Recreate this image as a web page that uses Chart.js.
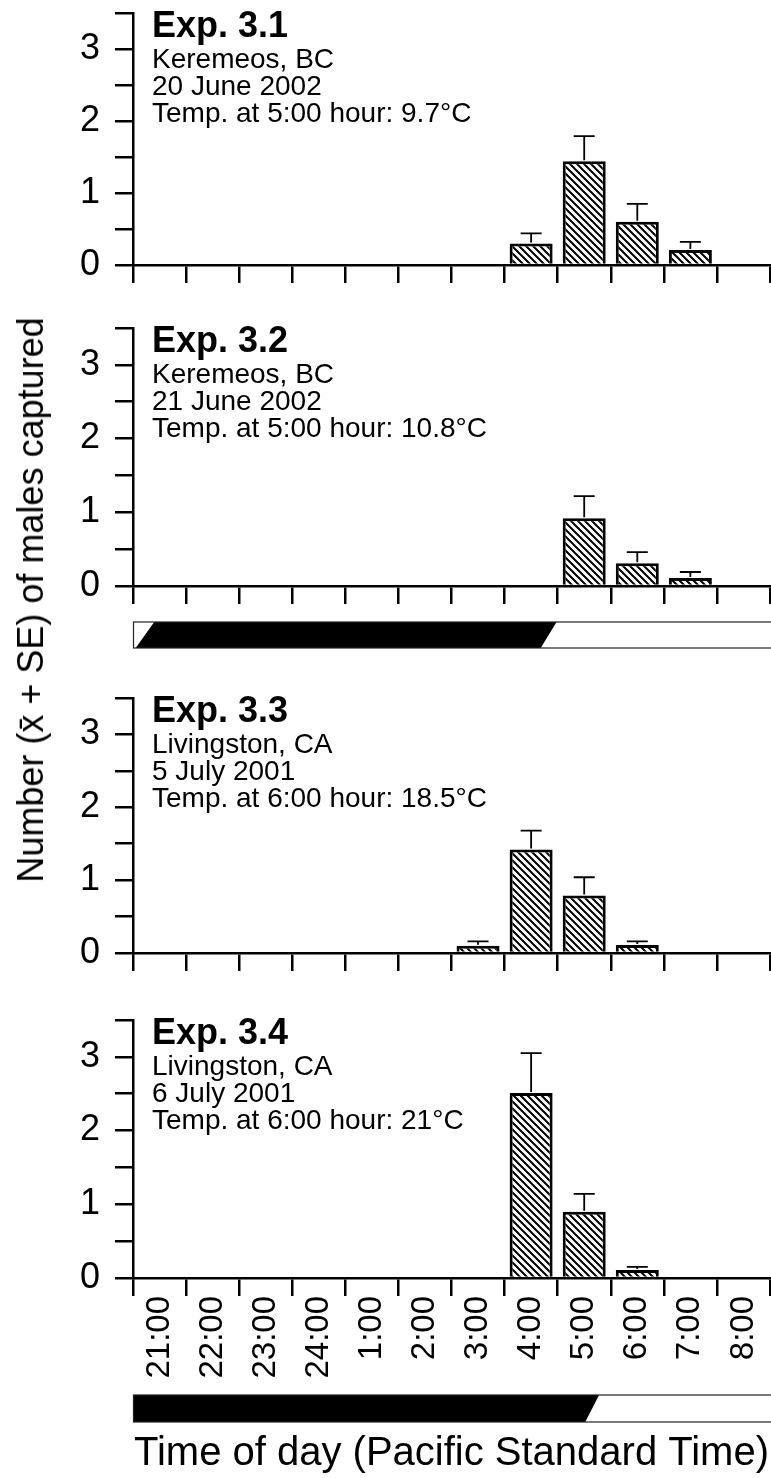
<!DOCTYPE html>
<html>
<head>
<meta charset="utf-8">
<script src="https://cdn.jsdelivr.net/npm/chart.js@4.4.1/dist/chart.umd.min.js"></script>
<style>
  html, body { margin: 0; padding: 0; background: #fff; }
  #wrap { position: relative; width: 771px; height: 1478px; overflow: hidden; background: #fff; }
  #wrap canvas { position: absolute; left: 0; }
  #ytitle {
    position: absolute; left: 31px; top: 600px;
    transform: translate(-50%, -50%) rotate(-90deg);
    white-space: nowrap; color: #000;
    font: 36px "Liberation Sans", Arial, Helvetica, sans-serif;
  }
</style>
</head>
<body>
<div id="wrap">
  <canvas id="c1" width="771" height="285" style="top:0px"></canvas>
  <canvas id="c2" width="771" height="355" style="top:300px"></canvas>
  <canvas id="c3" width="771" height="303" style="top:670px"></canvas>
  <canvas id="c4" width="771" height="483" style="top:995px"></canvas>
  <div id="ytitle">Number (x̄ + SE) of males captured</div>
</div>
<script>
// ---------------- DATA ----------------
const hours = ['21:00','22:00','23:00','24:00','1:00','2:00','3:00','4:00','5:00','6:00','7:00','8:00'];
const yLabelValues = [0, 1, 2, 3];

const exp31Mean = [null,null,null,null,null,null,null,0.30,1.44,0.60,0.21,null];
const exp31SE   = [null,null,null,null,null,null,null,0.14,0.35,0.25,0.11,null];
const exp32Mean = [null,null,null,null,null,null,null,null,0.92,0.31,0.11,null];
const exp32SE   = [null,null,null,null,null,null,null,null,0.30,0.15,0.08,null];
const exp33Mean = [null,null,null,null,null,null,0.10,1.42,0.79,0.11,null,null];
const exp33SE   = [null,null,null,null,null,null,0.06,0.26,0.25,0.05,null,null];
const exp34Mean = [null,null,null,null,null,null,null,2.51,0.90,0.11,null,null];
const exp34SE   = [null,null,null,null,null,null,null,0.54,0.24,0.04,null,null];

const exp31Text = ['Exp. 3.1', 'Keremeos, BC', '20 June 2002', 'Temp. at 5:00 hour: 9.7\u00B0C'];
const exp32Text = ['Exp. 3.2', 'Keremeos, BC', '21 June 2002', 'Temp. at 5:00 hour: 10.8\u00B0C'];
const exp33Text = ['Exp. 3.3', 'Livingston, CA', '5 July 2001', 'Temp. at 6:00 hour: 18.5\u00B0C'];
const exp34Text = ['Exp. 3.4', 'Livingston, CA', '6 July 2001', 'Temp. at 6:00 hour: 21\u00B0C'];

// light/dark bars: hours elapsed since 21:00 (top edge / bottom edge of twilight ramps)
const darkBC = { duskTop: 0.40, duskBottom: 0.05, dawnTop: 7.98, dawnBottom: 7.68 };
const darkCA = { duskTop: 0.00, duskBottom: 0.00, dawnTop: 8.78, dawnBottom: 8.52 };

const xTitle = 'Time of day (Pacific Standard Time)';

// ---------------- RENDERING ----------------
const FONT = '"Liberation Sans", Arial, Helvetica, sans-serif';
Chart.defaults.font.family = FONT;
Chart.defaults.color = '#000';

function makeHatch() {
  const s = 7;
  const c = document.createElement('canvas');
  c.width = s; c.height = s;
  const g = c.getContext('2d');
  g.fillStyle = '#fff'; g.fillRect(0, 0, s, s);
  g.strokeStyle = '#000'; g.lineWidth = 2.0;
  g.beginPath();
  g.moveTo(-1, -1); g.lineTo(s + 1, s + 1);
  g.moveTo(-1, s - 1); g.lineTo(1, s + 1);
  g.moveTo(s - 1, -1); g.lineTo(s + 1, 1);
  g.stroke();
  return g.createPattern(c, 'repeat');
}
const hatch = makeHatch();

function errorBarPlugin(se) {
  return {
    id: 'errorBars',
    afterDatasetsDraw(chart) {
      const meta = chart.getDatasetMeta(0);
      const y = chart.scales.y;
      const mean = chart.data.datasets[0].data;
      const ctx = chart.ctx;
      ctx.save();
      ctx.strokeStyle = '#000';
      ctx.lineWidth = 1.8;
      meta.data.forEach((bar, i) => {
        if (mean[i] == null || se[i] == null) return;
        const x = bar.x;
        const y0 = y.getPixelForValue(mean[i]);
        const y1 = y.getPixelForValue(mean[i] + se[i]);
        ctx.beginPath();
        ctx.moveTo(x, y0 - 1); ctx.lineTo(x, y1);
        ctx.moveTo(x - 10.5, y1); ctx.lineTo(x + 10.5, y1);
        ctx.stroke();
      });
      ctx.restore();
    }
  };
}

function panelTextPlugin(lines) {
  return {
    id: 'panelText',
    afterDraw(chart) {
      const a = chart.chartArea;
      const ctx = chart.ctx;
      ctx.save();
      ctx.fillStyle = '#000';
      ctx.textAlign = 'left';
      ctx.textBaseline = 'alphabetic';
      ctx.font = 'bold 36px ' + FONT;
      ctx.fillText(lines[0], a.left + 19, a.top + 24);
      ctx.font = '28px ' + FONT;
      for (let k = 1; k < lines.length; k++) {
        ctx.fillText(lines[k], a.left + 19, a.top + 55 + (k - 1) * 27);
      }
      ctx.restore();
    }
  };
}

function lightBarPlugin(bar, yOff, h) {
  return {
    id: 'lightBar',
    afterDraw(chart) {
      const x = chart.scales.x;
      const a = chart.chartArea;
      const ctx = chart.ctx;
      const y0 = a.bottom + yOff, y1 = y0 + h;
      const px = hh => x.getPixelForValue(hh - 0.5);
      ctx.save();
      ctx.fillStyle = '#000';
      ctx.beginPath();
      ctx.moveTo(px(bar.duskTop), y0);
      ctx.lineTo(px(bar.dawnTop), y0);
      ctx.lineTo(px(bar.dawnBottom), y1);
      ctx.lineTo(px(bar.duskBottom), y1);
      ctx.closePath();
      ctx.fill();
      ctx.strokeStyle = '#222';
      ctx.lineWidth = 1.2;
      ctx.strokeRect(a.left + 0.5, y0, a.right + 10 - a.left, h);
      ctx.restore();
    }
  };
}

function makePanel(id, mean, se, text, cfg) {
  const plugins = [errorBarPlugin(se), panelTextPlugin(text)];
  if (cfg.lightBar) plugins.push(lightBarPlugin(cfg.lightBar, cfg.barOff, cfg.barH));
  return new Chart(document.getElementById(id), {
    type: 'bar',
    data: {
      labels: hours,
      datasets: [{
        data: mean,
        backgroundColor: hatch,
        borderColor: '#000',
        borderWidth: 3,
        borderSkipped: 'bottom',
        barPercentage: 0.81,
        categoryPercentage: 1.0
      }]
    },
    options: {
      responsive: false,
      animation: false,
      events: [],
      layout: { padding: { top: cfg.padTop, right: 1, left: 0, bottom: 0 } },
      plugins: { legend: { display: false }, tooltip: { enabled: false } },
      scales: {
        x: {
          offset: true,
          grid: { offset: true, drawOnChartArea: false, drawTicks: true, tickLength: 18, color: '#000', lineWidth: 2.5 },
          border: { display: true, color: '#000', width: 2.5 },
          ticks: {
            display: !!cfg.showLabels, autoSkip: false, maxRotation: 90, minRotation: 90,
            padding: 0, color: '#000', font: { size: 33 }
          },
          title: {
            display: !!cfg.showLabels, text: xTitle, color: '#000',
            font: { size: 40 }, padding: { top: 0, bottom: 0 }
          },
          afterFit(s) { s.height = cfg.xH; s.paddingLeft = 0; s.paddingRight = 0; }
        },
        y: {
          min: 0, max: 3.5,
          grid: { drawOnChartArea: false, drawTicks: true, tickLength: 18, color: '#000', lineWidth: 2.5 },
          border: { display: true, color: '#000', width: 2.5 },
          ticks: {
            stepSize: 0.5, autoSkip: false, padding: 15, color: '#000', font: { size: 36 },
            callback: v => (yLabelValues.includes(v) ? String(v) : '')
          },
          afterFit(s) { s.width = 133; s.paddingTop = 0; s.paddingBottom = 0; }
        }
      }
    },
    plugins
  });
}

makePanel('c1', exp31Mean, exp31SE, exp31Text, { padTop: 13, xH: 20 });
makePanel('c2', exp32Mean, exp32SE, exp32Text, { padTop: 28, xH: 69, lightBar: darkBC, barOff: 36, barH: 26 });
makePanel('c3', exp33Mean, exp33SE, exp33Text, { padTop: 28, xH: 20 });
makePanel('c4', exp34Mean, exp34SE, exp34Text, { padTop: 25, xH: 200, showLabels: true, lightBar: darkCA, barOff: 117, barH: 27 });
</script>
</body>
</html>
